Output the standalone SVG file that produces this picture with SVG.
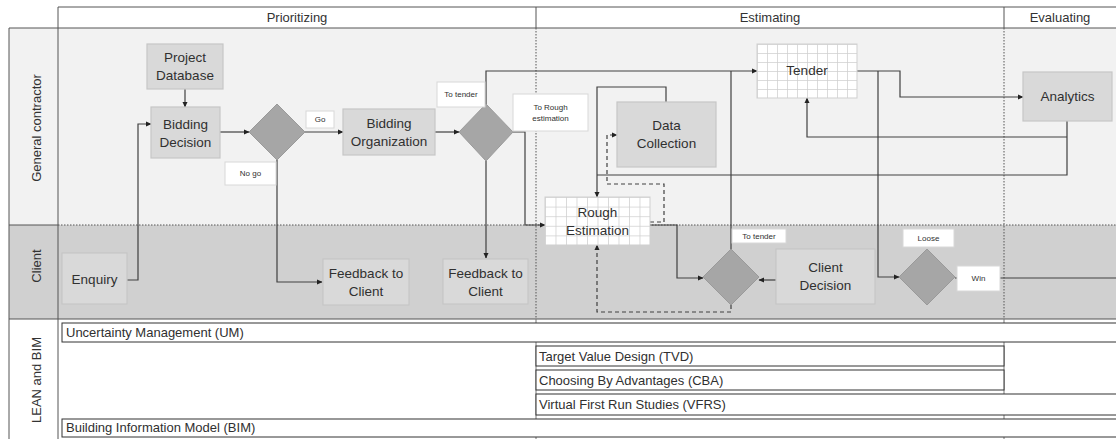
<svg xmlns="http://www.w3.org/2000/svg" width="1116" height="439" viewBox="0 0 1116 439">
<style>
.t{font-family:"Liberation Sans",Arial,sans-serif;fill:#303030;text-anchor:middle}
.nd{font-size:13.5px}
.hd{font-size:13px;fill:#333}
.lb{font-size:8px}
.bt{font-size:13px;text-anchor:start}
.box{fill:#d9d9d9;stroke:#c6c6c6;stroke-width:1.2}
.dia{fill:#a6a6a6;stroke:#9a9a9a;stroke-width:1}
.lab{fill:#fff;stroke:#d8d8d8;stroke-width:1}
.frame{stroke:#555;stroke-width:1;fill:none}
.dot{stroke:#555;stroke-width:1;stroke-dasharray:1.5 1.5;fill:none}
.bar{fill:#fff;stroke:#333;stroke-width:1}
.c{fill:none;stroke:#404040;stroke-width:1.2}
.cd{fill:none;stroke:#404040;stroke-width:1.2;stroke-dasharray:4 3}
</style>
<defs>
<marker id="ah" markerWidth="6" markerHeight="6" refX="5" refY="3" orient="auto" markerUnits="userSpaceOnUse">
<path d="M0,0.5 L5.5,3 L0,5.5 Z" fill="#222"/>
</marker>
<pattern id="gT" x="757" y="44" width="10" height="9" patternUnits="userSpaceOnUse">
<rect width="10" height="9" fill="#fff"/>
<path d="M0,0 H10 M0,0 V9" stroke="#cfcfcf" stroke-width="1.5"/>
</pattern>
<pattern id="gR" x="545" y="197" width="10.5" height="9.6" patternUnits="userSpaceOnUse">
<rect width="10.5" height="9.6" fill="#fff"/>
<path d="M0,0 H10.5 M0,0 V9.6" stroke="#cfcfcf" stroke-width="1.5"/>
</pattern>
</defs>

<g id="background">
<rect x="0" y="0" width="1116" height="439" fill="#fff"/>
<rect x="9" y="28" width="1107" height="197" fill="#f2f2f2"/>
<rect x="9" y="225" width="1107" height="94" fill="#d0d0d0"/>
</g>

<g id="lanes">
<path class="frame" d="M58,7 H1116 M9,28 H1116 M9,28 V439 M58,7 V439 M9,225 H58 M9,319 H1116"/>
<path class="dot" d="M58,225 H1116"/>
<path class="frame" d="M536,7 V28 M1004,7 V28"/>
<path class="dot" d="M536,28 V319 M1004,28 V319"/>
<path d="M536,319 V439 M1004,319 V439" stroke="#777" stroke-width="1"/>
<text class="t hd" x="297" y="22">Prioritizing</text>
<text class="t hd" x="770" y="22">Estimating</text>
<text class="t hd" x="1060" y="22">Evaluating</text>
<text class="t hd" transform="translate(41,128) rotate(-90)">General contractor</text>
<text class="t hd" transform="translate(41,266) rotate(-90)">Client</text>
<text class="t hd" transform="translate(41,380) rotate(-90)">LEAN and BIM</text>
</g>

<g id="connectors">
<path class="c" d="M185,89 V107" marker-end="url(#ah)"/>
<path class="c" d="M127,280 H138 V124 H151" marker-end="url(#ah)"/>
<path class="c" d="M220,132 H249" marker-end="url(#ah)"/>
<path class="c" d="M305,132 H343" marker-end="url(#ah)"/>
<path class="c" d="M277,160 V282 H322" marker-end="url(#ah)"/>
<path class="c" d="M435,132 H459" marker-end="url(#ah)"/>
<path class="c" d="M486,104 V71 H757" marker-end="url(#ah)"/>
<path class="c" d="M486,161 V258" marker-end="url(#ah)"/>
<path class="c" d="M513,132 H525 V225 H545" marker-end="url(#ah)"/>
<path class="c" d="M666,102 V87 H597 V197" marker-end="url(#ah)"/>
<path class="c" d="M1067,121 V175 H597"/>
<path class="c" d="M1067,137 H807 V98" marker-end="url(#ah)"/>
<path class="c" d="M857,71 H900 V97 H1023" marker-end="url(#ah)"/>
<path class="c" d="M878,71 V277 H899" marker-end="url(#ah)"/>
<path class="c" d="M650,225 H677 V278 H703" marker-end="url(#ah)"/>
<path class="c" d="M731,249 V71"/>
<path class="c" d="M776,280 H759" marker-end="url(#ah)"/>
<path class="c" d="M955,278 H1116"/>
<path class="cd" d="M650,222 H664 V184 H607 V135 H617" marker-end="url(#ah)"/>
<path class="cd" d="M731,305 V312 H597 V245" marker-end="url(#ah)"/>
</g>

<g id="project-database">
<rect class="box" x="147" y="44" width="76" height="45"/>
<text class="t nd" x="185" y="62">Project</text>
<text class="t nd" x="185" y="80">Database</text>
</g>
<g id="bidding-decision">
<rect class="box" x="151" y="107" width="69" height="51"/>
<text class="t nd" x="185.5" y="129">Bidding</text>
<text class="t nd" x="185.5" y="147">Decision</text>
</g>
<g id="decision-1">
<path class="dia" d="M277,104 L305,132 L277,160 L249,132 Z"/>
</g>
<g id="label-go">
<rect class="lab" x="306" y="111" width="28" height="17"/>
<text class="t lb" x="320" y="122">Go</text>
</g>
<g id="label-nogo">
<rect class="lab" x="225" y="162" width="51" height="23"/>
<text class="t lb" x="250.5" y="176">No go</text>
</g>
<g id="bidding-organization">
<rect class="box" x="343" y="109" width="92" height="46"/>
<text class="t nd" x="389" y="128">Bidding</text>
<text class="t nd" x="389" y="146">Organization</text>
</g>
<g id="decision-2">
<path class="dia" d="M486,104 L513,132 L486,161 L459,132 Z"/>
</g>
<g id="label-to-tender-1">
<rect class="lab" x="437" y="82" width="48" height="25"/>
<text class="t lb" x="461" y="97">To tender</text>
</g>
<g id="label-to-rough">
<rect class="lab" x="513" y="94" width="75" height="37"/>
<text class="t lb" x="550.5" y="110">To Rough</text>
<text class="t lb" x="550.5" y="121">estimation</text>
</g>
<g id="feedback-1">
<rect class="box" x="323" y="259" width="86" height="46"/>
<text class="t nd" x="366" y="278">Feedback to</text>
<text class="t nd" x="366" y="296">Client</text>
</g>
<g id="feedback-2">
<rect class="box" x="443" y="259" width="85" height="45"/>
<text class="t nd" x="485.5" y="278">Feedback to</text>
<text class="t nd" x="485.5" y="296">Client</text>
</g>
<g id="enquiry">
<rect class="box" x="62" y="253" width="65" height="51"/>
<text class="t nd" x="94.5" y="284">Enquiry</text>
</g>
<g id="data-collection">
<rect class="box" x="617" y="102" width="99" height="65"/>
<text class="t nd" x="666.5" y="130">Data</text>
<text class="t nd" x="666.5" y="148">Collection</text>
</g>
<g id="rough-estimation">
<rect x="545" y="197" width="105" height="48" fill="url(#gR)" stroke="#cfcfcf" stroke-width="1"/>
<text class="t nd" x="597.5" y="217">Rough</text>
<text class="t nd" x="597.5" y="235">Estimation</text>
</g>
<g id="tender">
<rect x="757" y="44" width="100" height="54" fill="url(#gT)" stroke="#cfcfcf" stroke-width="1"/>
<text class="t nd" x="807" y="75">Tender</text>
</g>
<g id="analytics">
<rect class="box" x="1023" y="72" width="89" height="49"/>
<text class="t nd" x="1067.5" y="101">Analytics</text>
</g>
<g id="decision-3">
<path class="dia" d="M731,249 L759,277 L731,305 L703,277 Z"/>
</g>
<g id="label-to-tender-2">
<rect class="lab" x="732" y="229" width="54" height="14"/>
<text class="t lb" x="759" y="239">To tender</text>
</g>
<g id="client-decision">
<rect class="box" x="776" y="249" width="99" height="55"/>
<text class="t nd" x="825.5" y="272">Client</text>
<text class="t nd" x="825.5" y="290">Decision</text>
</g>
<g id="decision-4">
<path class="dia" d="M927,249 L955,277 L927,305 L899,277 Z"/>
</g>
<g id="label-loose">
<rect class="lab" x="903" y="229" width="51" height="18"/>
<text class="t lb" x="928.5" y="241">Loose</text>
</g>
<g id="label-win">
<rect class="lab" x="957" y="266" width="43" height="25"/>
<text class="t lb" x="978.5" y="281">Win</text>
</g>

<g id="lean-bim">
<rect class="bar" x="62" y="323" width="1060" height="19"/>
<text class="t bt" x="66" y="337">Uncertainty Management (UM)</text>
<rect class="bar" x="536" y="346" width="468" height="20"/>
<text class="t bt" x="539" y="361">Target Value Design (TVD)</text>
<rect class="bar" x="536" y="370" width="468" height="20"/>
<text class="t bt" x="539" y="385">Choosing By Advantages (CBA)</text>
<rect class="bar" x="536" y="394" width="586" height="21"/>
<text class="t bt" x="539" y="409">Virtual First Run Studies (VFRS)</text>
<rect class="bar" x="62" y="419" width="1060" height="18"/>
<text class="t bt" x="66" y="432">Building Information Model (BIM)</text>
</g>
</svg>
